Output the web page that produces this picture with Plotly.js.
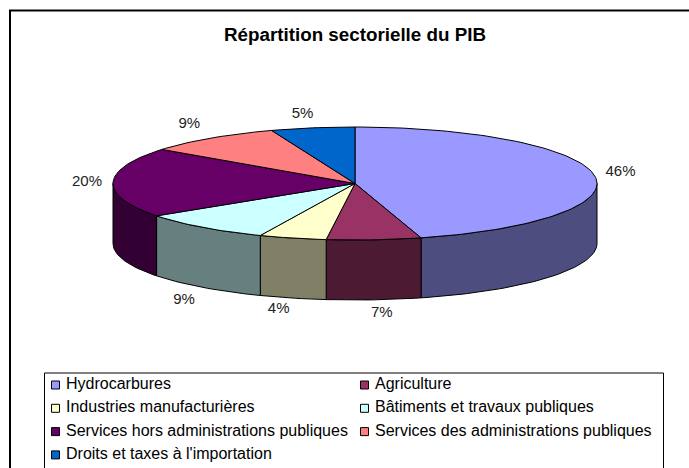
<!DOCTYPE html>
<html><head><meta charset="utf-8">
<script src="https://cdn.plot.ly/plotly-3.0.1.min.js"></script>
<style>html,body{margin:0;padding:0;background:#fff}#c{width:689px;height:468px}</style>
</head><body><div id="c"></div>
<script>
var categories = ["Hydrocarbures","Agriculture","Industries manufacturières","Bâtiments et travaux publiques","Services hors administrations publiques","Services des administrations publiques","Droits et taxes à l'importation"];
var values = [45.6,6.3,4.5,8.9,20.0,9.1,5.6];
var percentLabels = ["46%","7%","4%","9%","20%","9%","5%"];
var colors = ["#9999FF","#993366","#FFFFCC","#CCFFFF","#660066","#FF8080","#0066CC"];
var sideColors = ["#4D4D80","#4D1A33","#808066","#668080","#330033","#804040","#003366"];

var W=689,H=468,cx=355,cy=183.5,rx=242,ry=56.5,depth=60;
var labelNudge=[[3,-1],[6,-2],[-8,-3],[-4,1],[-3,0],[-8,-2],[-6,1]];
var traces=[];
function arc(a,b){var p=[],n=Math.max(2,Math.ceil((b-a)/1.5));for(var i=0;i<=n;i++){var t=(a+(b-a)*i/n)*Math.PI/180;p.push([cx+rx*Math.sin(t),cy-ry*Math.cos(t)]);}return p;}
var tot=values.reduce(function(s,v){return s+v},0),acc=0;
var slices=values.map(function(v,i){var a=acc/tot*360;acc+=v;return {a:a,b:acc/tot*360,i:i};});
function poly(pts,fill){
  traces.push({type:'scatter',mode:'lines',x:pts.map(function(p){return p[0]}),y:pts.map(function(p){return p[1]}),
    fill:'toself',fillcolor:fill,line:{color:'#000',width:1},hoverinfo:'skip',showlegend:false});
}
// front walls
slices.forEach(function(s){
  var a=Math.max(s.a,90),b=Math.min(s.b,270);
  if(b<=a)return;
  var top=arc(a,b);
  var bot=top.slice().reverse().map(function(p){return [p[0],p[1]+depth]});
  poly(top.concat(bot,[top[0]]),sideColors[s.i]);
});
// top faces
slices.forEach(function(s){
  var pts=[[cx,cy]].concat(arc(s.a,s.b),[[cx,cy]]);
  poly(pts,colors[s.i]);
});
// percentage labels
var lx=[],ly=[];
slices.forEach(function(s){
  var m=(s.a+s.b)/2*Math.PI/180,c=Math.cos(m);
  lx.push(cx+(rx+23)*Math.sin(m)+labelNudge[s.i][0]);
  ly.push(cy-(ry+15)*c+(c<-0.02?depth:0)+labelNudge[s.i][1]);
});
traces.push({type:'scatter',mode:'text',x:lx,y:ly,text:percentLabels,textposition:'middle center',
  textfont:{family:'Liberation Sans',size:15,color:'#222'},hoverinfo:'skip',showlegend:false});
// legend
var col=[55.5,364.5],textGap=10.5,row0=385,rowH=23.3;
var gx=[],gy=[],tx=[];
categories.forEach(function(c,i){gx.push(col[i%2]);tx.push(col[i%2]+textGap);gy.push(row0+rowH*Math.floor(i/2));});
traces.push({type:'scatter',mode:'markers',x:gx,y:gy,
  marker:{symbol:'square',size:8,color:colors,line:{color:'#000',width:1}},hoverinfo:'skip',showlegend:false});
traces.push({type:'scatter',mode:'text',x:tx,y:gy,text:categories,textposition:'middle right',
  textfont:{family:'Liberation Sans',size:16,color:'#000'},hoverinfo:'skip',showlegend:false});

Plotly.newPlot('c',traces,{
  width:W,height:H,margin:{l:0,r:0,t:0,b:0},paper_bgcolor:'#fff',plot_bgcolor:'#fff',showlegend:false,
  title:{text:'<b>Répartition sectorielle du PIB</b>',x:355/W,xanchor:'center',y:1-34/H,yanchor:'middle',font:{family:'Liberation Sans',size:18.8,color:'#000'}},
  xaxis:{range:[0,W],visible:false,fixedrange:true},
  yaxis:{range:[H,0],visible:false,fixedrange:true},
  shapes:[
    {type:'rect',xref:'x',yref:'y',x0:10,x1:700,y0:10.5,y1:480,line:{color:'#000',width:2},layer:'below'},
    {type:'rect',xref:'x',yref:'y',x0:44.5,x1:663.5,y0:373,y1:480,line:{color:'#000',width:1},layer:'below'}
  ]
},{displayModeBar:false,staticPlot:true});
</script></body></html>
